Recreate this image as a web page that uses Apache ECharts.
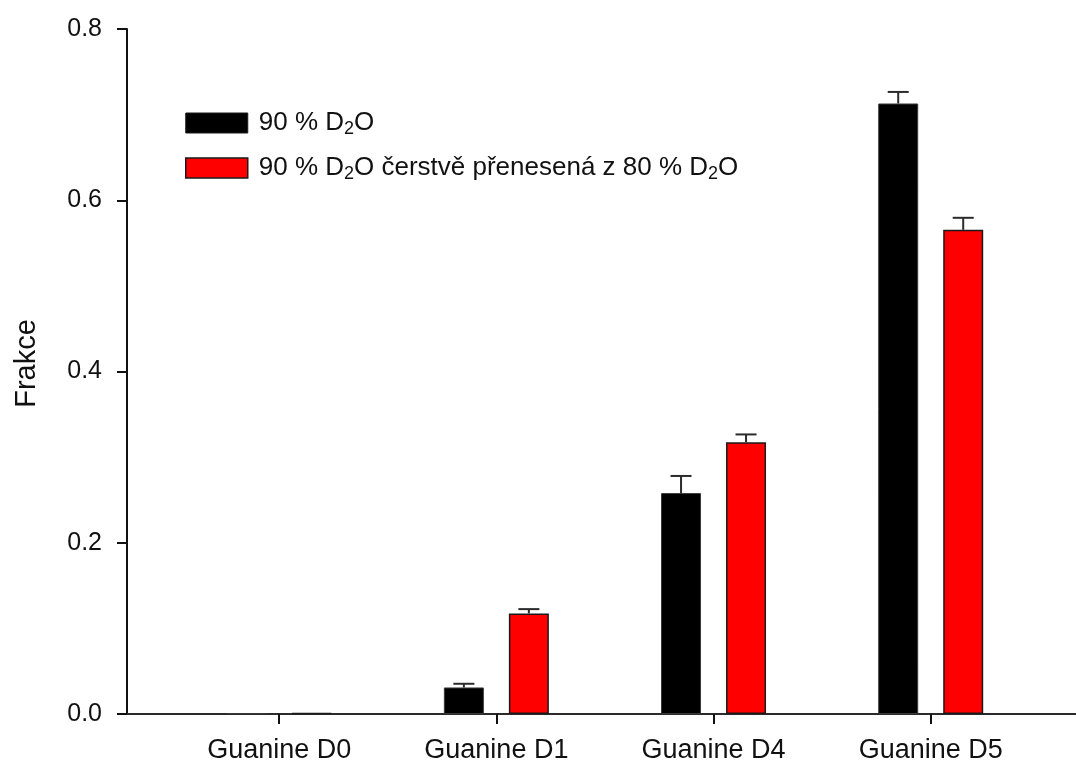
<!DOCTYPE html>
<html>
<head>
<meta charset="utf-8">
<script src="https://cdn.jsdelivr.net/npm/echarts@6/dist/echarts.min.js"></script>
<style>
  html, body { margin: 0; padding: 0; background: #ffffff; }
  #chart { width: 1076px; height: 763px; }
</style>
</head>
<body>
<div id="chart"></div>
<script>
// Deuterium labelling fractions of guanine isotopologues
const categories = ['Guanine D0', 'Guanine D1', 'Guanine D4', 'Guanine D5'];
const seriesNames = ['90 % D{sub|2}O', '90 % D{sub|2}O čerstvě přenesená z 80 % D{sub|2}O'];
const fresh90 = [0.001, 0.031, 0.258, 0.713];
const fresh90Err = [0, 0.0043, 0.020, 0.0135];
const moved80to90 = [0.001, 0.1175, 0.3175, 0.5655];
const moved80to90Err = [0, 0.005, 0.009, 0.014];
const yTicks = [0, 0.2, 0.4, 0.6, 0.8];

const FONT = "'Liberation Sans', Arial, sans-serif";
const BAR_W = 40;
const BAR_GAP = 25;
const HALF_STEP = (BAR_W + BAR_GAP) / 2;

function errorSeries(name, values, errs, dx) {
  return {
    type: 'custom',
    name: name + ' err',
    xAxisIndex: 1,
    yAxisIndex: 1,
    z: 5,
    silent: true,
    data: values.map((v, i) => [i, v, errs[i]]),
    renderItem: function (params, api) {
      const e = api.value(2);
      if (!e) return null;
      const base = api.coord([api.value(0), api.value(1)]);
      const tip = api.coord([api.value(0), api.value(1) + e]);
      const x = base[0] + dx;
      const style = { stroke: '#2b2b2b', lineWidth: 2 };
      return {
        type: 'group',
        children: [
          { type: 'line', shape: { x1: x, y1: base[1], x2: x, y2: tip[1] }, style: style },
          { type: 'line', shape: { x1: x - 10.5, y1: tip[1], x2: x + 10.5, y2: tip[1] }, style: style }
        ]
      };
    }
  };
}

const chart = echarts.init(document.getElementById('chart'));
chart.setOption({
  backgroundColor: '#ffffff',
  animation: false,
  textStyle: { fontFamily: FONT },
  grid: [
    { left: 127, right: 0, top: 29, bottom: 49, containLabel: false, outerBoundsMode: 'none' },
    { left: 170.6, right: 36.7, top: 29, bottom: 49, containLabel: false, outerBoundsMode: 'none' }
  ],
  legend: {
    orient: 'vertical',
    left: 185,
    top: 104,
    padding: 0,
    itemWidth: 62,
    itemHeight: 20,
    itemGap: 11,
    icon: 'rect',
    data: [
      { name: seriesNames[0], itemStyle: { color: '#000000', borderColor: '#1a1a1a', borderWidth: 1 } },
      { name: seriesNames[1], itemStyle: { color: '#ff0000', borderColor: '#1a1a1a', borderWidth: 1.5 } }
    ],
    textStyle: {
      fontFamily: FONT,
      fontSize: 26,
      color: '#111111',
      lineHeight: 30,
      padding: [0, 0, 0, 6],
      rich: {
        sub: { fontFamily: FONT, fontSize: 18, color: '#111111', verticalAlign: 'bottom', lineHeight: 30, padding: [16, 0, 0, 0] }
      }
    },
    formatter: function (n) { return n; }
  },
  xAxis: [
    {
      type: 'value',
      gridIndex: 0,
      min: 0,
      max: 1,
      axisLine: { show: true, lineStyle: { color: '#2b2b2b', width: 2 } },
      axisTick: { show: false },
      axisLabel: { show: false },
      splitLine: { show: false }
    },
    {
      type: 'category',
      gridIndex: 1,
      data: categories,
      boundaryGap: true,
      axisLine: { show: false },
      axisTick: { show: true, alignWithLabel: true, length: 10, lineStyle: { color: '#111111', width: 2 } },
      axisLabel: { fontFamily: FONT, fontSize: 27, color: '#111111', margin: 23 },
      splitLine: { show: false }
    }
  ],
  yAxis: [
    {
      type: 'value',
      gridIndex: 0,
      min: yTicks[0],
      max: yTicks[yTicks.length - 1],
      interval: 0.2,
      name: 'Frakce',
      nameLocation: 'middle',
      nameGap: 86,
      nameTextStyle: { fontFamily: FONT, fontSize: 29, color: '#111111', padding: [0, 0, 0, 16] },
      axisLine: { show: true, lineStyle: { color: '#111111', width: 2 } },
      axisTick: { show: true, inside: false, length: 10, lineStyle: { color: '#111111', width: 2 } },
      axisLabel: { fontFamily: FONT, fontSize: 25, color: '#111111', margin: 25, formatter: v => v.toFixed(1) },
      splitLine: { show: false }
    },
    {
      type: 'value',
      gridIndex: 1,
      min: yTicks[0],
      max: yTicks[yTicks.length - 1],
      interval: 0.2,
      show: false,
      splitLine: { show: false }
    }
  ],
  series: [
    {
      type: 'bar',
      name: seriesNames[0],
      xAxisIndex: 1,
      yAxisIndex: 1,
      data: fresh90,
      barWidth: BAR_W,
      barGap: (BAR_GAP / BAR_W * 100) + '%',
      itemStyle: { color: '#000000', borderColor: '#3a3a3a', borderWidth: 1 }
    },
    {
      type: 'bar',
      name: seriesNames[1],
      xAxisIndex: 1,
      yAxisIndex: 1,
      data: moved80to90,
      barWidth: BAR_W,
      barGap: (BAR_GAP / BAR_W * 100) + '%',
      itemStyle: { color: '#ff0000', borderColor: '#1a1a1a', borderWidth: 1.5 }
    },
    errorSeries(seriesNames[0], fresh90, fresh90Err, -HALF_STEP),
    errorSeries(seriesNames[1], moved80to90, moved80to90Err, HALF_STEP)
  ]
});
</script>
</body>
</html>
